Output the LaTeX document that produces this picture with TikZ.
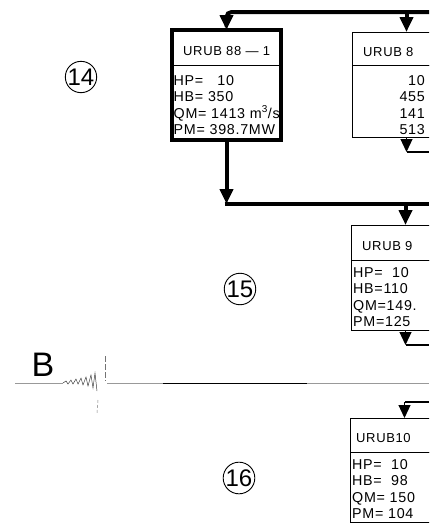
\documentclass[tikz,border=0pt]{standalone}
\usepackage{fontspec}
\setmainfont{Liberation Sans}
\newfontfamily\stencil{Liberation Sans}[LetterSpace=5]
\usetikzlibrary{arrows.meta, positioning, fit}

\begin{document}
\begin{tikzpicture}[
    x=1pt, y=-1pt,
    every node/.style={font=\stencil\fontsize{14.3}{16.5}\selectfont},
    frame/.style={draw, line width=0.8pt, outer sep=0pt, minimum width=109pt, inner sep=0pt},
    title/.style={inner sep=0pt, anchor=west, yshift=-3.5pt, font=\stencil\fontsize{13}{16}\selectfont},
    lines/.style={inner sep=0pt, align=left},
    tag/.style={circle, draw, line width=0.9pt, minimum size=27pt, inner sep=0pt,
                font=\fontsize{24}{24}\selectfont},
    flow/.style={line width=4pt, -{Triangle[width=13pt, length=15pt]}},
    bus/.style={line width=4pt},
    tap/.style={line width=1.2pt, -{Triangle[width=12pt, length=13pt]}},
    trace/.style={line width=0.8pt, black!40}
]
\useasboundingbox (0,0) rectangle (429,528);
\clip (0,0) rectangle (429,528);

% station blocks
\node[frame, minimum height=35pt] (u88h) at (226.5,47.5) {};
\node[frame, minimum height=75pt, below=0pt of u88h] (u88b) {};
\node[fit=(u88h)(u88b), draw, line width=3.5pt, inner sep=0pt] (u88) {};
\node[title, right=11pt of u88h.west] (u88n) {URUB 88 — 1};
\node[lines, below right=10pt and 1.5pt of u88b.north west] (u88v)
    {HP=\ \ \ 10\\HB= 350\\QM= 1413 m\textsuperscript{3}/s\\PM= 398.7MW};

\node[frame, minimum height=33pt] (u89h) at (406.5,48.5) {};
\node[frame, minimum height=72pt, below=0pt of u89h] (u89b) {};
\node[title, right=11pt of u89h.west] (u89n) {URUB 8};
\node[lines, align=right, anchor=north east] (u89v)
    at ([xshift=73pt, yshift=-10pt]u89b.north west) {10\\455\\141\\513};

\node[frame, minimum height=35pt] (u90h) at (405.5,242.5) {};
\node[frame, minimum height=70pt, below=0pt of u90h] (u90b) {};
\node[title, right=11pt of u90h.west] (u90n) {URUB 9};
\node[lines, below right=7pt and 2pt of u90b.north west] (u90v)
    {HP=\ \ 10\\HB=110\\QM=149.\\PM=125};

\node[frame, minimum height=34pt] (u10h) at (404.5,435) {};
\node[frame, minimum height=70pt, below=0pt of u10h] (u10b) {};
\node[title, right=6pt of u10h.west] (u10n) {URUB10};
\node[lines, below right=7pt and 2pt of u10b.north west] (u10v)
    {HP=\ \ 10\\HB=\ \ 98\\QM= 150\\PM= 104};

\node[tag] (c14) at (81,77) {14};
\node[tag] (c15) at (240,289) {15};
\node[tag] (c16) at (239,478) {16};

% main feed lines
\coordinate (busA) at (429,12);
\coordinate (busB) at (429,204);
\coordinate (turnB) at (u88b.south |- busB);
\draw[flow, rounded corners=5pt] (busA) -| (u88h.north);
\draw[flow] (busA -| u89h.north) -- (u89h.north);
\draw[flow] (u88b.south) -- (turnB);
\draw[bus] ([xshift=-2pt]turnB) -- (busB);
\draw[flow] (busB -| u90h.north) -- (u90h.north);

% side taps
\path (u89b.south) ++(0,15) coordinate (tap89);
\path (u90b.south) ++(0,15) coordinate (tap90);
\coordinate (in10) at (429,402);
\draw[tap] (u89b.south) -- (tap89);
\draw[line width=1.2pt] (tap89) -- (tap89 -| busA);
\draw[tap] (u90b.south) -- (tap90);
\draw[line width=1.2pt] (tap90) -- (tap90 -| busA);
\draw[line width=1.2pt] (in10) -- (in10 -| u10h.north);
\draw[tap] (in10 -| u10h.north) -- (u10h.north);

% section line B
\coordinate (trL) at (15,383);
\coordinate (trR) at (429,383);
\node[font=\fontsize{34}{34}\selectfont, inner sep=0pt, anchor=base] (lblB) at (43,376) {B};
\draw[trace] (trL) -- (63,383);
\draw[line width=0.45pt, black!80] (63,383) -- (66,381) -- (68,384) -- (71,380) -- (73,384)
    -- (76,379) -- (78,384) -- (81,378) -- (83,385) -- (86,377) -- (88,386) -- (91,375)
    -- (93,388) -- (95,373) -- (97,391);
\draw[line width=0.6pt, black!55, dash pattern=on 6pt off 2pt] (105,356) -- (105,381);
\draw[line width=0.5pt, black!50, dash pattern=on 3pt off 2pt] (98,400) -- (97,413);
\draw[trace] (107,383) -- (trR);
\draw[line width=0.9pt] (163,383) -- (307,383);
\end{tikzpicture}
\end{document}
